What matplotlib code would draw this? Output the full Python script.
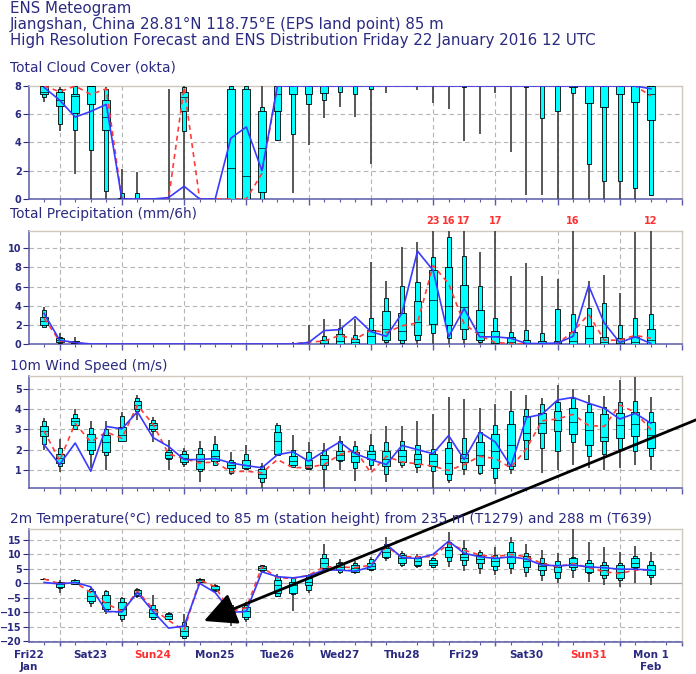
import matplotlib
matplotlib.use("Agg")
import matplotlib.pyplot as plt
import matplotlib.transforms as mtransforms
from matplotlib.patches import FancyArrowPatch
import numpy as np

OUT_PNG = "out.png"

NAVY = "#2a2a80"
SPINE = "#5a5aa8"
FRAME = "#cfc8bc"
GRID = "#b4b4b4"
RED_DAY = "#ff3030"

# forecast steps (hours after Fri 22 Jan 12 UTC)
hours = list(range(6, 241, 6))

# ---- total cloud cover (okta)
cloud_min = [6.9, 4.8, 1.8, 0, 0, 0, 0, 0, 0, 0, 0, 0, 0, 0, 0, 4.1, 0.45, 3.8, 5.75, 6.5,
             5.8, 2.5, 7.5, 8, 7.75, 6.8, 6.35, 4.1, 4.6, 7.5, 3.3, 0.3, 0.3, 0, 0, 0, 0, 0, 0, 0.2]
cloud_p10 = [7.2, 5.3, 4.9, 3.5, 0.6, 0, 0, 0, 0, 4.8, 0, 0, 0, 0, 0, 4.2, 4.6, 6.7, 7.0, 7.6,
             7.4, 7.8, 8, 8, 8, 8, 8, 7.9, 8, 8, 8, 7.9, 5.7, 6.2, 7.5, 2.5, 1.3, 1.3, 0.75, 0.3]
cloud_p25 = [7.4, 6.6, 6.1, 6.7, 4.9, 0, 0, 0, 0, 6.2, 0, 0, 0, 0, 0.5, 6.2, 7.4, 7.4, 7.5, 8,
             8, 8, 8, 8, 8, 8, 8, 8, 8, 8, 8, 8, 8, 8, 7.9, 6.8, 6.5, 7.4, 6.9, 5.6]
cloud_med = [7.6, 7.0, 7.3, 8, 5.8, 0, 0, 0, 0, 7.2, 0, 0, 2.2, 1.6, 3.6, 7.4, 8, 8, 8, 8,
             8, 8, 8, 8, 8, 8, 8, 8, 8, 8, 8, 8, 8, 8, 8, 8, 8, 8, 8, 7.4]
cloud_p75 = [8, 7.6, 7.4, 8, 7.0, 0.1, 0, 0, 0, 7.6, 0, 0, 7.8, 7.8, 6.2, 8, 8, 8, 8, 8,
             8, 8, 8, 8, 8, 8, 8, 8, 8, 8, 8, 8, 8, 8, 8, 8, 8, 8, 8, 8]
cloud_p90 = [8, 7.8, 8, 8, 7.8, 0.4, 0.4, 0, 0, 7.9, 0, 0, 8, 8, 6.5, 8, 8, 8, 8, 8,
             8, 8, 8, 8, 8, 8, 8, 8, 8, 8, 8, 8, 8, 8, 8, 8, 8, 8, 8, 8]
cloud_max = [8, 7.9, 8, 8, 7.9, 2.1, 1.9, 0, 7.8, 8, 0, 0, 8, 8, 8, 8, 8, 8, 8, 8,
             8, 8, 8, 8, 8, 8, 8, 8, 8, 8, 8, 8, 8, 8, 8, 8, 8, 8, 8, 8]
cloud_hres = [7.9, 7.0, 5.8, 6.2, 6.7, 0, 0, 0, 0.1, 0.9, 0, 0, 4.3, 5.1, 2.0, 8, 8, 8, 8, 8,
              8, 8, 8, 8, 8, 8, 8, 8, 8, 8, 8, 8, 8, 8, 8, 8, 8, 8, 8, 7.8]
cloud_ctrl = [8, 7.6, 8, 7.4, 7.8, 0, 0, 0, 0, 7.9, 0, 0, 0, 0, 1.8, 8, 8, 8, 8, 8,
              8, 8, 8, 8, 8, 8, 8, 8, 8, 8, 8, 8, 8, 8, 8, 8, 8, 8, 8, 7.3]

# ---- total precipitation (mm/6h)
prec_min = [1.8, 0.1, 0] + [0] * 37
prec_p10 = [1.8, 0.15, 0.05] + [0] * 19 + [0.25, 0.15, 0.4, 1.2, 0.6, 0.5, 0.25, 0.05] + [0] * 10
prec_p25 = [2.0, 0.25, 0.07] + [0] * 19 + [0.4, 0.4, 0.9, 2.1, 2.0, 1.6, 0.4, 0.15, 0.05] + [0] * 9
prec_med = [2.4, 0.4, 0.15] + [0] * 15 + [0.1, 0.3, 0.2, 0.8, 1.6, 1.35, 2.3, 4.6, 4.0, 3.9,
                                          1.3, 0.8, 0.2, 0.1, 0.1, 0.1, 0.3, 0.6, 0.2, 0.1, 0.2, 0.4]
prec_p75 = [2.8, 0.6, 0.3] + [0] * 15 + [0.4, 1.0, 0.5, 1.45, 3.4, 3.25, 4.5, 7.75, 8.0, 6.2,
                                         3.6, 1.35, 0.75, 0.4, 0.35, 0.35, 1.3, 1.9, 0.7, 0.6, 0.75, 1.6]
prec_p90 = [3.5, 0.7, 0.35] + [0] * 15 + [0.85, 1.7, 0.9, 2.7, 4.8, 6.1, 6.5, 9.1, 11.2, 9.2,
                                          6.1, 2.7, 1.3, 1.5, 1.2, 3.7, 3.1, 3.8, 4.25, 2.0, 2.7, 3.1]
prec_max = [3.9, 1.1, 0.75] + [0] * 13 + [0.25, 2.0, 2.6, 2.6, 2.6, 8.6, 6.6, 10.1, 10.7, 23, 16, 17,
                                          9.6, 17, 7.05, 8.5, 7.05, 6.8, 16, 6.6, 7.2, 5.3, 11.7, 12]
prec_hres = [3.2, 0.4, 0.15] + [0] * 14 + [0.15, 1.4, 1.5, 2.85, 1.3, 0.8, 3.2, 9.7, 7.7, 0.75, 3.7,
                                           0.75, 0.75, 0.6, 0.05, 0.05, 0.1, 0.8, 6.1, 2.2, 0.15, 0.75, 0.05]
prec_ctrl = [2.7, 0.3, 0.15] + [0] * 14 + [0.2, 0.3, 0.9, 0.5, 1.45, 1.2, 1.9, 2.2, 8.2, 6.3, 2.1,
                                           0.9, 0.15, 0.05, 0, 0, 0.05, 1.3, 3.1, 0.4, 0.4, 0.9, 0.6]

# ---- 10m wind speed (m/s)
wind_min = [2.0, 0.9, 3.03, 1.1, 0.97, 2.44, 3.48, 2.38, 1.0, 1.13, 0.39, 1.3, 0.74, 1.1, 0.11, 1.67, 1.13, 1.0, 0.11, 1.0,
            0.44, 1.0, 0.39, 1.1, 0.85, 0.11, 0.36, 0.74, 0.74, 0.31, 0.8, 1.56, 0.85, 1.0, 1.26, 1.1, 0.98, 1.1, 1.26, 1.0]
wind_p10 = [2.28, 1.18, 3.03, 1.79, 1.75, 2.5, 3.92, 2.9, 1.55, 1.3, 0.93, 1.25, 0.85, 1.02, 0.41, 1.75, 1.13, 1.02, 1.02, 1.43,
            1.1, 1.26, 0.77, 1.23, 1.13, 0.93, 0.48, 1.02, 0.85, 0.61, 1.02, 1.56, 2.08, 1.92, 2.4, 1.67, 1.77, 2.05, 1.92, 1.67]
wind_p25 = [2.7, 1.34, 3.23, 2.0, 1.89, 2.44, 4.0, 3.03, 1.59, 1.39, 1.02, 1.43, 1.1, 1.1, 0.61, 1.79, 1.26, 1.1, 1.26, 1.51,
            1.39, 1.56, 1.21, 1.39, 1.3, 1.18, 0.8, 1.39, 1.26, 1.07, 1.18, 2.49, 2.82, 2.93, 2.77, 2.25, 2.44, 2.57, 2.66, 2.08]
wind_med = [2.93, 1.6, 3.4, 2.38, 2.38, 2.74, 4.2, 3.23, 1.75, 1.6, 1.43, 1.67, 1.23, 1.26, 0.8, 2.44, 1.46, 1.26, 1.56, 1.75,
            1.67, 1.79, 1.56, 1.67, 1.56, 1.43, 1.34, 1.59, 1.75, 1.92, 2.21, 2.82, 3.31, 3.46, 3.38, 2.97, 2.64, 3.2, 3.28, 2.74]
wind_p75 = [3.18, 1.79, 3.56, 2.8, 2.74, 3.1, 4.4, 3.31, 1.89, 1.79, 1.79, 2.0, 1.39, 1.51, 1.02, 2.87, 1.7, 1.51, 1.75, 1.95,
            1.89, 1.92, 1.95, 2.0, 1.79, 1.79, 2.08, 1.79, 2.38, 2.79, 3.26, 3.69, 3.8, 3.92, 4.08, 3.89, 3.77, 3.8, 3.89, 3.36]
wind_p90 = [3.43, 2.08, 3.75, 3.07, 3.0, 3.69, 4.57, 3.48, 2.0, 1.92, 2.08, 2.28, 1.51, 1.79, 1.18, 3.2, 2.0, 1.89, 2.0, 2.41,
            2.16, 2.25, 2.38, 2.44, 2.21, 2.05, 2.38, 2.6, 2.87, 3.2, 3.92, 4.0, 4.25, 4.38, 4.54, 4.25, 4.13, 4.38, 4.43, 3.89]
wind_max = [3.56, 2.54, 4.0, 3.4, 3.4, 3.88, 4.7, 3.64, 2.5, 2.08, 2.44, 2.66, 1.87, 2.25, 1.34, 3.31, 2.74, 2.38, 2.33, 2.7,
            2.41, 2.77, 3.18, 3.18, 3.4, 3.75, 4.59, 4.49, 4.08, 4.25, 4.9, 4.7, 4.54, 5.2, 5.03, 4.7, 4.67, 5.44, 5.6, 4.59]
wind_hres = [2.25, 1.26, 2.33, 0.93, 3.15, 3.03, 3.88, 2.6, 2.16, 1.51, 1.51, 1.56, 1.34, 1.21, 1.1, 1.75, 1.89, 1.43, 1.92, 2.38,
             1.8, 1.51, 1.26, 2.21, 2.0, 1.8, 2.7, 1.51, 2.87, 2.38, 1.18, 3.59, 3.75, 4.46, 4.59, 4.3, 4.05, 3.52, 3.8, 3.31]
wind_ctrl = [2.93, 1.46, 3.3, 2.38, 2.87, 2.57, 4.2, 3.26, 1.79, 1.56, 1.34, 1.39, 0.9, 0.93, 0.85, 1.51, 1.1, 1.13, 1.26, 1.75,
             2.0, 0.85, 1.67, 1.39, 1.3, 1.18, 0.97, 1.26, 1.67, 1.56, 1.1, 2.05, 3.43, 3.52, 3.75, 3.2, 3.15, 4.21, 3.85, 2.98]

# ---- 2m temperature (deg C)
temp_min = [1.3, -3.2, -0.5, -8.2, -10.5, -13.4, -5.0, -12.8, -12.8, -19.4, 0.4, -2.8, -14.8, -13.4, 4.1, -4.7, -9.7, -3.2, 4.6, 3.4,
            3.4, 4.2, 7.7, 5.7, 5.2, 5.2, 5.7, 4.2, 3.4, 2.9, 3.4, 2.3, 0.8, 0.0, 1.7, 0.6, -0.6, -1.2, 0.2, -0.6]
temp_p10 = [1.4, -1.5, -0.3, -6.9, -9.7, -12.2, -4.3, -12.2, -12.5, -18.9, 0.5, -2.6, -13.4, -12.2, 4.4, -4.3, -3.8, -2.3, 5.0, 4.0,
            3.8, 4.5, 8.6, 6.3, 6.1, 5.7, 7.7, 6.3, 5.2, 4.6, 5.2, 4.0, 2.9, 1.9, 4.6, 3.5, 1.7, 1.2, 5.2, 2.3]
temp_p25 = [1.4, -1.2, -0.2, -6.2, -8.8, -11.1, -4.1, -11.7, -12.2, -18.3, 0.6, -2.4, -12.2, -11.7, 4.6, -3.2, -3.2, -0.6, 5.4, 4.6,
            4.0, 4.9, 9.2, 7.2, 6.5, 6.3, 9.2, 8.0, 6.9, 6.1, 7.2, 5.7, 4.6, 4.0, 5.7, 4.0, 2.8, 1.7, 5.7, 2.8]
temp_med = [1.5, -0.4, 0.5, -4.4, -6.4, -9.0, -3.2, -10.2, -11.3, -16.6, 1.0, -1.8, -10.5, -9.7, 5.4, -0.6, -0.6, 0.6, 7.2, 5.7,
            5.4, 6.0, 10.9, 8.6, 7.7, 7.2, 11.5, 9.2, 8.4, 7.7, 9.2, 7.7, 6.1, 5.7, 7.2, 5.7, 4.6, 4.0, 7.2, 4.6]
temp_p75 = [1.6, 0.3, 1.1, -2.7, -4.1, -6.4, -2.4, -8.8, -10.5, -14.8, 1.5, -0.9, -8.8, -8.2, 6.0, 1.1, 0.6, 1.7, 8.9, 6.9,
            6.5, 6.9, 12.3, 9.8, 8.9, 8.0, 12.7, 10.0, 9.8, 8.9, 10.9, 9.5, 7.2, 6.5, 8.6, 7.2, 6.5, 6.3, 8.9, 6.3]
temp_p90 = [1.6, 0.6, 1.2, -1.8, -2.7, -5.2, -2.1, -7.4, -10.2, -13.4, 1.6, -0.6, -7.6, -7.6, 6.3, 2.6, 1.7, 2.9, 10.0, 7.5,
            7.2, 8.4, 13.5, 10.4, 9.5, 8.6, 14.2, 12.3, 11.0, 9.8, 14.2, 10.4, 8.6, 7.7, 9.2, 8.0, 7.4, 6.9, 9.5, 7.7]
temp_max = [1.7, 1.1, 1.5, -1.2, -2.4, -4.7, -1.7, -4.1, -9.9, -10.5, 1.8, -0.3, -6.7, -6.4, 6.5, 3.1, 2.3, 3.4, 13.5, 8.4,
            7.7, 9.2, 16.2, 11.2, 10.0, 9.2, 17.9, 15.0, 11.5, 12.7, 16.2, 13.5, 11.5, 10.4, 19.0, 14.2, 12.7, 10.9, 13.0, 10.9]
temp_hres = [0.3, -0.2, 0.3, -1.2, -9.7, -9.9, -3.2, -9.7, -15.5, -14.8, 0.0, -3.2, -10.1, -9.7, 4.0, 2.3, 1.9, 2.6, 4.6, 4.6,
             4.2, 5.7, 13.5, 8.9, 8.6, 10.0, 14.6, 10.4, 9.2, 8.6, 9.2, 8.4, 6.3, 6.1, 6.3, 5.7, 5.4, 4.9, 4.9, 4.6]
temp_ctrl = [1.5, -0.1, 0.3, -3.2, -7.0, -9.7, -2.7, -8.8, -12.8, -16.3, 1.2, -1.2, -9.7, -8.5, 5.7, 1.9, 1.7, 2.8, 5.7, 5.7,
             5.4, 6.3, 12.7, 9.2, 9.2, 9.2, 13.8, 11.5, 9.8, 9.2, 10.0, 9.2, 6.9, 5.7, 6.9, 5.4, 4.0, 3.4, 4.6, 4.6]

# day labels at 12 UTC, day boundaries at 00 UTC
day_labels = ["Fri22", "Sat23", "Sun24", "Mon25", "Tue26", "Wed27", "Thu28", "Fri29", "Sat30", "Sun31", "Mon 1"]
day_label_hours = list(range(0, 241, 24))
day_lines = list(range(12, 253, 24))

W, H = 696, 674
fig = plt.figure(figsize=(W / 100, H / 100), dpi=100)
plt.rcParams["font.family"] = "DejaVu Sans"


def px_axes(top, bottom):
    left, right = 28.5, 682
    return fig.add_axes([left / W, 1 - bottom / H, (right - left) / W, (bottom - top) / H])


def style_axes(ax, ylim, yticks, zero_line=False):
    ax.set_xlim(0, 252)
    ax.set_ylim(*ylim)
    ax.set_yticks(yticks)
    for lab in ax.get_yticklabels():
        lab.set_fontweight("bold")
    ax.tick_params(axis="y", length=4, width=0.8, color=NAVY, labelcolor=NAVY, labelsize=7, pad=1)
    ax.set_xticks(day_lines)
    ax.set_xticks(list(range(6, 253, 6)), minor=True)
    ax.tick_params(axis="x", which="major", length=4, width=1.0, color=SPINE, labelbottom=False)
    ax.tick_params(axis="x", which="minor", length=2.5, width=0.8, color=SPINE)
    for s in ["left", "bottom"]:
        ax.spines[s].set_color(SPINE)
        ax.spines[s].set_linewidth(1.1)
    for s in ["top", "right"]:
        ax.spines[s].set_color(FRAME)
        ax.spines[s].set_linewidth(1.0)
    for yt in yticks:
        if zero_line and yt == 0:
            ax.axhline(0, color="#a8a8a8", lw=0.9, zorder=1)
        elif ylim[0] < yt < ylim[1]:
            ax.axhline(yt, color=GRID, lw=0.8, ls=(0, (4, 3)), zorder=1)
    for d in day_lines[:-1]:
        ax.axvline(d, color=GRID, lw=0.8, ls=(0, (4, 3)), zorder=1)


def draw_boxes(ax, lo, p10, p25, med, p75, p90, hi, hres, ctrl):
    x = np.array(hours, dtype=float)
    lo, p10, p25, med, p75, p90, hi = map(np.array, (lo, p10, p25, med, p75, p90, hi))
    ax.vlines(x, lo, hi, color="#4a4a4a", lw=1.3, zorder=3)
    m = (p90 - p10) > 0
    ax.bar(x[m], (p90 - p10)[m], bottom=p10[m], width=1.6, color="#00ffff",
           edgecolor="black", linewidth=0.6, zorder=4)
    m = (p75 - p25) > 0
    ax.bar(x[m], (p75 - p25)[m], bottom=p25[m], width=3.0, color="#00ffff",
           edgecolor="black", linewidth=0.6, zorder=5)
    ax.hlines(med[m], x[m] - 1.5, x[m] + 1.5, color="black", lw=0.5, zorder=6)
    ax.plot(x, ctrl, color="#ff3b3b", lw=1.2, ls=(0, (3, 2.5)), zorder=7)
    ax.plot(x, hres, color="#3a3aff", lw=1.2, zorder=8)


# header lines
fig.text(10 / W, 1 - 12.7 / H, "ENS Meteogram", color=NAVY, fontsize=10.8, va="baseline")
fig.text(10 / W, 1 - 29.3 / H, "Jiangshan, China 28.81°N 118.75°E (EPS land point) 85 m",
         color=NAVY, fontsize=10.8, va="baseline")
fig.text(10 / W, 1 - 45 / H,
         "High Resolution Forecast and ENS Distribution Friday 22 January 2016 12 UTC",
         color=NAVY, fontsize=10.8, va="baseline")

panel_titles = [
    (71.7, "Total Cloud Cover (okta)"),
    (218.3, "Total Precipitation (mm/6h)"),
    (370, "10m Wind Speed (m/s)"),
    (523.3, "2m Temperature(°C) reduced to 85 m (station height) from 235 m (T1279) and 288 m (T639)"),
]
for y, t in panel_titles:
    fig.text(10 / W, 1 - y / H, t, color=NAVY, fontsize=9.9, va="baseline")

# cloud cover
ax_c = px_axes(86, 199)
style_axes(ax_c, (0, 8), [0, 2, 4, 6, 8])
draw_boxes(ax_c, cloud_min, cloud_p10, cloud_p25, cloud_med, cloud_p75, cloud_p90, cloud_max,
           cloud_hres, cloud_ctrl)

# precipitation
ax_p = px_axes(231, 344)
style_axes(ax_p, (0, 11.8), [0, 2, 4, 6, 8, 10])
draw_boxes(ax_p, prec_min, prec_p10, prec_p25, prec_med, prec_p75, prec_p90, prec_max,
           prec_hres, prec_ctrl)
trans = mtransforms.blended_transform_factory(ax_p.transData, ax_p.transAxes)
for h, v in zip(hours, prec_max):
    if v > 11.8:
        ax_p.text(h, 1.04, f"{v:g}", transform=trans, ha="center", va="bottom",
                  color=RED_DAY, fontsize=7, fontweight="bold")

# wind
ax_w = px_axes(376, 488)
style_axes(ax_w, (0.1, 5.65), [1, 2, 3, 4, 5])
draw_boxes(ax_w, wind_min, wind_p10, wind_p25, wind_med, wind_p75, wind_p90, wind_max,
           wind_hres, wind_ctrl)

# temperature
ax_t = px_axes(529, 642)
style_axes(ax_t, (-20.3, 18.8), [-20, -15, -10, -5, 0, 5, 10, 15], zero_line=True)
draw_boxes(ax_t, temp_min, temp_p10, temp_p25, temp_med, temp_p75, temp_p90, temp_max,
           temp_hres, temp_ctrl)
ax_t.set_xticks(day_label_hours, labels=day_labels, minor=False)
ax_t.set_xticks(list(range(6, 253, 6)), minor=True)
ax_t.tick_params(axis="x", which="major", length=0, labelbottom=True, labelsize=7.5,
                 labelcolor=NAVY, pad=6)
for lab in ax_t.get_xticklabels():
    lab.set_fontweight("bold")
    if lab.get_text().startswith("Sun"):
        lab.set_color(RED_DAY)
# 00 UTC tick marks for the bottom panel
ax_t.vlines(day_lines, -20.3 - 1.4, -20.3, color=SPINE, lw=1.0, clip_on=False)
month_trans = mtransforms.blended_transform_factory(ax_t.transData, ax_t.transAxes)
ax_t.text(0, -0.22, "Jan", transform=month_trans, ha="center", va="center",
          color=NAVY, fontsize=7.5, fontweight="bold")
ax_t.text(240, -0.22, "Feb", transform=month_trans, ha="center", va="center",
          color=NAVY, fontsize=7.5, fontweight="bold")

# black overlay arrow
arrow = FancyArrowPatch((703 / W, 1 - 417 / H), (204 / W, 1 - 621 / H), transform=fig.transFigure,
                        arrowstyle="-|>,head_length=1.0,head_width=0.5", mutation_scale=20,
                        lw=2, color="black", shrinkA=0, shrinkB=0, clip_on=False)
fig.add_artist(arrow)

plt.savefig(OUT_PNG, dpi=100)
plt.close()
